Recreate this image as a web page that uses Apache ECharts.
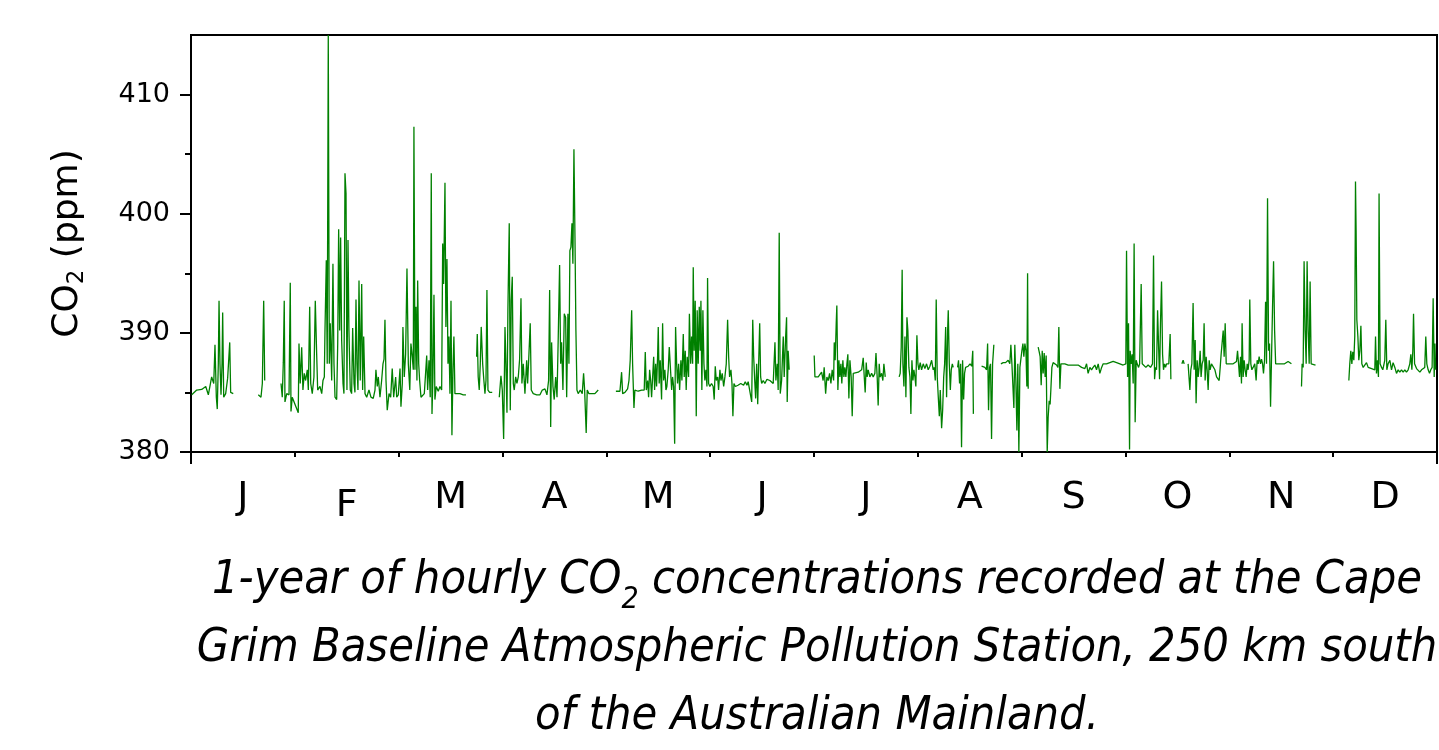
<!DOCTYPE html>
<html>
<head>
<meta charset="utf-8">
<script src="https://cdn.jsdelivr.net/npm/echarts@6/dist/echarts.min.js"></script>
<style>html,body{margin:0;padding:0;background:#fff}#c{width:1439px;height:750px}</style>
</head>
<body>
<div id="c"></div>
<script>
// x = time in months since 1 January (0..12), y = CO2 (ppm)
const months = ['J','F','M','A','M','J','J','A','S','O','N','D'];
const monthTicks = [1,2,3,4,5,6,7,8,9,10,11];
const endTicks = [0,12];
const monthCentres = [0.5,1.5,2.5,3.5,4.5,5.5,6.5,7.5,8.5,9.5,10.5,11.5];
const yTicks = [380,390,400,410];
const yMinorTicks = [385,395,405];

const segJan1 = [[0.007,384.8],[0.055,385.2],[0.103,385.25],[0.142,385.5],[0.167,384.8],[0.199,386.3],[0.219,385.75],[0.231,389],[0.244,384.6],[0.253,383.6],[0.263,387.4],[0.270,392.7],[0.279,387.4],[0.289,384.8],[0.299,387.4],[0.305,391.7],[0.315,384.6],[0.334,384.9],[0.353,386.2],[0.373,389.2],[0.382,385],[0.407,384.9]];
const segJan2 = [[0.648,384.8],[0.674,384.6],[0.687,385.75],[0.700,392.7],[0.710,386]];
const segFebMar = [[0.867,385.75],[0.879,384.6],[0.889,387.5],[0.898,392.7],[0.905,384.2],[0.922,384.9],[0.944,384.8],[0.956,394.2],[0.963,383.4],[0.975,384.6],[1.033,383.3],[1.040,389.1],[1.052,385.75],[1.066,388.8],[1.078,385.2],[1.091,386.6],[1.104,386],[1.120,386.9],[1.130,385.2],[1.143,392.2],[1.153,385.75],[1.168,384.9],[1.184,386.3],[1.197,392.7],[1.210,388.3],[1.220,385.2],[1.242,385.5],[1.259,384.9],[1.271,386],[1.284,386.3],[1.290,390],[1.303,396.1],[1.312,387.4],[1.322,415],[1.332,387.4],[1.341,390.8],[1.355,386],[1.367,395.8],[1.377,387.4],[1.387,384.6],[1.403,384.4],[1.413,389.1],[1.422,398.7],[1.432,390.2],[1.441,398],[1.451,389.4],[1.464,385.75],[1.473,384.9],[1.483,403.4],[1.493,401.7],[1.502,385.2],[1.512,397.8],[1.521,390.2],[1.534,385.2],[1.547,384.9],[1.557,390.4],[1.570,385.75],[1.579,385],[1.589,392.8],[1.598,387.4],[1.608,385.2],[1.618,394.4],[1.630,386],[1.644,394.1],[1.653,385.2],[1.663,389.7],[1.676,384.9],[1.692,384.6],[1.714,385.2],[1.733,384.6],[1.755,384.5],[1.772,385.2],[1.781,386.9],[1.794,385.5],[1.804,386.3],[1.820,384.6],[1.836,386],[1.849,387.4],[1.859,387.8],[1.868,391.1],[1.878,386],[1.890,383.5],[1.907,384.9],[1.923,384.6],[1.938,387],[1.952,384.6],[1.971,386.3],[1.981,384.6],[1.996,384.8],[2.013,387.0],[2.022,383.8],[2.035,385.75],[2.041,390.5],[2.054,386.3],[2.067,388.2],[2.080,395.4],[2.093,387.4],[2.107,385.2],[2.118,389.1],[2.131,388],[2.141,386.9],[2.147,407.3],[2.157,386.9],[2.167,392.2],[2.176,386],[2.183,394.4],[2.193,387.4],[2.202,386],[2.215,384.6],[2.227,384.5],[2.247,384.9],[2.270,388.1],[2.279,385.2],[2.292,387.7],[2.304,384.6],[2.314,403.4],[2.321,383.2],[2.330,386.3],[2.340,393.2],[2.349,384.4],[2.362,385.5],[2.381,385.1],[2.398,385.5],[2.414,385.2],[2.424,397.5],[2.433,394.1],[2.446,402.6],[2.455,390.5],[2.465,396.2],[2.475,387.4],[2.484,389.7],[2.494,384.9],[2.504,392.7],[2.513,381.4],[2.523,386.9],[2.532,389.7],[2.542,384.9],[2.558,384.8],[2.590,384.9],[2.622,384.8],[2.648,384.8]];
const segMar2 = [[2.751,388],[2.757,389.9],[2.766,386.3],[2.776,385.2],[2.786,387.4],[2.795,390.5],[2.809,387.4],[2.818,386.3],[2.831,384.9],[2.841,386],[2.850,393.6],[2.860,385.2],[2.876,385],[2.901,385]];
const segApr = [[2.969,384.6],[2.985,386.4],[2.998,385.2],[3.011,381.1],[3.024,390.5],[3.033,387.4],[3.043,383.3],[3.052,391.9],[3.065,399.2],[3.075,383.5],[3.084,392.7],[3.094,394.7],[3.104,385.75],[3.113,385.2],[3.127,386.3],[3.139,385.75],[3.152,386.3],[3.165,387.8],[3.178,392.9],[3.187,385.75],[3.200,387.4],[3.216,384.9],[3.233,387.7],[3.242,385.75],[3.255,388.3],[3.267,390.8],[3.277,385.2],[3.296,384.9],[3.329,384.8],[3.361,384.8],[3.383,385.2],[3.409,385.3],[3.428,384.8],[3.444,386],[3.454,393.6],[3.464,382.1],[3.473,389.2],[3.486,385.5],[3.498,384.4],[3.512,386.3],[3.525,384.6],[3.537,389.7],[3.550,395.7],[3.560,387.4],[3.569,389.2],[3.582,385.2],[3.595,391.6],[3.608,391.3],[3.618,384.6],[3.630,391.6],[3.640,387.4],[3.649,396.9],[3.659,397.2],[3.669,399.2],[3.678,395.8],[3.688,405.4],[3.698,398],[3.707,390.2],[3.717,385.2],[3.729,384.9],[3.749,385.2],[3.768,384.9],[3.781,386.6],[3.791,385.2],[3.801,382.8],[3.806,381.6],[3.816,385.2],[3.832,384.9],[3.858,384.9],[3.890,384.9],[3.922,385.2]];
const segMayJun = [[4.092,385.1],[4.131,385.1],[4.147,386.7],[4.157,384.9],[4.179,385],[4.205,385.3],[4.218,386],[4.230,387.7],[4.244,391.9],[4.253,387.4],[4.266,383.7],[4.275,385.2],[4.307,385.1],[4.340,385.2],[4.365,385.2],[4.375,388.4],[4.385,385.2],[4.398,386],[4.407,384.6],[4.417,386.9],[4.427,386],[4.436,384.6],[4.446,386.3],[4.456,388],[4.465,385.2],[4.475,387.4],[4.484,385.5],[4.494,388.1],[4.500,390.5],[4.509,385.75],[4.519,387.7],[4.532,384.4],[4.542,390.8],[4.552,386],[4.564,386.9],[4.574,385.2],[4.583,385.5],[4.596,386.9],[4.606,388.8],[4.615,387.4],[4.629,385.2],[4.638,386.3],[4.648,385.5],[4.658,380.7],[4.667,390.5],[4.677,387.4],[4.686,385.75],[4.696,387.4],[4.706,385.2],[4.718,387.7],[4.728,386],[4.741,389.9],[4.750,386.3],[4.760,388.5],[4.769,385.2],[4.779,388],[4.792,386.3],[4.800,391.6],[4.812,387.4],[4.821,389.7],[4.831,387.4],[4.837,395.5],[4.846,388.5],[4.856,392.7],[4.866,383],[4.875,391.9],[4.885,387.4],[4.895,392.2],[4.904,388.5],[4.911,392.7],[4.920,385.2],[4.930,391.9],[4.940,387.4],[4.949,386],[4.959,386.9],[4.969,385.5],[4.975,394.6],[4.985,385.75],[4.997,385.5],[5.013,385.75],[5.029,385.5],[5.039,384.4],[5.049,387.2],[5.059,386],[5.072,386.3],[5.081,385.2],[5.094,386.9],[5.104,386],[5.116,386.6],[5.130,385.5],[5.142,386.3],[5.155,387.4],[5.168,391.1],[5.178,388],[5.187,386.3],[5.200,386.9],[5.210,385.75],[5.219,383],[5.229,385.75],[5.243,385.5],[5.268,385.6],[5.295,385.75],[5.322,385.6],[5.338,385.9],[5.354,385.6],[5.366,385.9],[5.383,386],[5.400,384.2],[5.410,391.1],[5.419,388],[5.429,386],[5.438,384.5],[5.448,387.4],[5.458,384],[5.467,387.4],[5.477,390.8],[5.486,386.3],[5.496,385.75],[5.511,386],[5.527,385.75],[5.547,386.1],[5.559,386.1],[5.575,386],[5.592,386],[5.607,385.75],[5.624,389.2],[5.633,386],[5.646,387.4],[5.655,385.2],[5.665,398.4],[5.675,384.9],[5.688,386],[5.704,389.7],[5.713,386.3],[5.727,389.7],[5.736,391.3],[5.742,384.2],[5.751,388.5],[5.761,386.9]];
const segJul1 = [[6.002,388.1],[6.009,386.3],[6.041,386.3],[6.057,386.2],[6.073,386.7],[6.088,386],[6.098,387.1],[6.112,384.9],[6.124,386.3],[6.137,386],[6.150,386.6],[6.163,385.75],[6.175,386.9],[6.189,386],[6.195,389.2],[6.204,387.7],[6.214,390.8],[6.220,392.3],[6.230,385.2],[6.240,387.7],[6.249,386.3],[6.259,387.4],[6.268,385.75],[6.278,387.7],[6.288,386.3],[6.297,387.1],[6.307,386.3],[6.317,387.4],[6.326,388.2],[6.336,384.5],[6.346,387.7],[6.358,386.3],[6.368,383],[6.378,386.6],[6.394,386.6],[6.426,386.7],[6.459,386.9],[6.474,387.9],[6.484,386.3],[6.493,385],[6.503,387.5],[6.512,386.3],[6.522,386.9],[6.538,386.3],[6.555,386.6],[6.570,386.3],[6.586,386.6],[6.597,388.3],[6.609,386.2],[6.618,383.9],[6.628,387.4],[6.637,386.3],[6.651,386.6],[6.663,386],[6.673,387.4],[6.686,386.3]];
const segAug1 = [[6.820,386.3],[6.830,386.6],[6.840,388.8],[6.849,395.3],[6.856,387.4],[6.866,385.5],[6.876,389.7],[6.885,384.6],[6.895,391.3],[6.904,390.2],[6.914,387.1],[6.924,386.3],[6.933,383.2],[6.943,387.7],[6.953,386],[6.962,386.9],[6.972,386.3],[6.981,385.5],[6.991,389.8],[7.001,387.4],[7.010,386.9],[7.023,387.5],[7.036,386.9],[7.052,387.4],[7.068,387],[7.084,387.4],[7.100,386.9],[7.116,387.2],[7.133,387.7],[7.148,386.9],[7.158,387.1],[7.168,386],[7.177,392.8],[7.187,386.3],[7.197,384.6],[7.207,383],[7.216,385.2],[7.229,382],[7.239,383.5],[7.249,386.3],[7.258,387.4],[7.268,390.5],[7.277,384.6],[7.287,390.2],[7.293,391.9],[7.303,387.4],[7.313,385.2],[7.322,386.9],[7.332,387.4],[7.341,387.1]];
const segAug2 = [[7.383,387.1],[7.392,387.7],[7.402,385.75],[7.412,387.4],[7.421,380.4],[7.431,387.7],[7.441,384.4],[7.450,386.6],[7.460,387.1],[7.470,387.1],[7.485,387.2],[7.503,387.4],[7.519,387.2],[7.529,388.5],[7.535,383.2]];
const segAug3 = [[7.614,387.2],[7.646,387.1],[7.662,386.9],[7.672,389.1],[7.681,383.5],[7.691,387.1],[7.700,387.4],[7.710,381.1],[7.720,387.4],[7.732,389]];
const segSep1 = [[7.800,387.4],[7.822,387.5],[7.845,387.5],[7.870,387.7],[7.886,387.4],[7.896,389],[7.906,387.4],[7.915,387.4],[7.925,383.7],[7.934,389],[7.944,386],[7.954,381.8],[7.963,387.4],[7.973,380],[7.983,387.1],[7.992,387.2],[8.002,388.5],[8.012,389.1],[8.021,388],[8.031,389.1],[8.041,388.5],[8.050,385.5],[8.057,395],[8.063,385.3]];
const segSepOct = [[8.159,388.8],[8.169,388.4],[8.178,388],[8.188,385.6],[8.198,388.5],[8.207,386.6],[8.217,388.3],[8.226,386.3],[8.236,388.1],[8.246,380],[8.255,382.9],[8.265,384.3],[8.274,384],[8.281,385.2],[8.291,387.1],[8.303,387.5],[8.320,387.4],[8.336,387.3],[8.349,387.1],[8.358,390.5],[8.368,385.3],[8.378,387.4],[8.394,387.5],[8.416,387.4],[8.448,387.3],[8.480,387.3],[8.512,387.3],[8.544,387.3],[8.577,387.1],[8.609,387],[8.625,387.4],[8.640,386.6],[8.657,387.1],[8.673,386.9],[8.688,387.1],[8.705,387.3],[8.721,386.9],[8.737,387.4],[8.753,386.6],[8.770,387.1],[8.785,387.4],[8.801,387.5],[8.817,387.4],[8.849,387.5],[8.881,387.6],[8.914,387.5],[8.946,387.4],[8.977,387.3],[9.003,387.4],[9.010,396.9],[9.020,386.3],[9.029,390.8],[9.039,380.2],[9.045,388.5],[9.054,387.4],[9.064,388.2],[9.074,385.75],[9.083,397.5],[9.093,382.5],[9.103,387.7],[9.112,387.4],[9.126,387.1],[9.136,387.4],[9.151,394.1],[9.161,387.4],[9.177,387.4],[9.196,387.1],[9.218,387.3],[9.241,387.1],[9.260,387.4],[9.270,396.5],[9.280,386.1],[9.289,387.1],[9.299,386.9],[9.309,391.9],[9.318,389.1],[9.328,386.1],[9.337,390.8],[9.347,394.3],[9.357,388.2],[9.366,386.9],[9.376,387.4],[9.386,387.1],[9.395,387.4],[9.405,387.4],[9.417,387.4],[9.430,389.9],[9.437,386.1]];
const segOct2 = [[9.543,387.4],[9.555,387.7],[9.565,387.4]];
const segOctNov = [[9.603,387.4],[9.620,385.2],[9.629,386.9],[9.639,387.4],[9.651,392.5],[9.661,386.9],[9.671,389.4],[9.680,384.1],[9.690,387.7],[9.700,386.3],[9.709,387.1],[9.719,388.5],[9.728,386.3],[9.738,387.4],[9.748,387.7],[9.757,390.8],[9.767,386],[9.777,388],[9.786,386.9],[9.796,385.2],[9.806,387.7],[9.815,386.9],[9.828,387.4],[9.844,387.4],[9.861,386.9],[9.877,386.3],[9.890,386.3],[9.902,386],[9.912,387.1],[9.921,388.2],[9.931,389.2],[9.941,390.2],[9.950,388],[9.960,390.8],[9.970,387.4],[9.979,387.4],[10.005,387.4],[10.037,387.4],[10.053,387.4],[10.069,387.6],[10.079,388.5],[10.089,387.4],[10.098,386.3],[10.108,388],[10.117,385.75],[10.123,390.8],[10.133,386.3],[10.143,387.7],[10.152,386.9],[10.162,386.3],[10.172,387.4],[10.181,386.9],[10.191,387.7],[10.197,392.8],[10.207,387.4],[10.217,386.9],[10.229,387.1],[10.245,387.4],[10.258,386],[10.268,387.7],[10.278,387.4],[10.287,388],[10.300,387.4],[10.310,387.8],[10.320,387.4],[10.329,386.6],[10.339,387.7],[10.349,392.6],[10.358,387.4],[10.368,401.3],[10.378,388.5],[10.387,389.1],[10.397,383.8],[10.407,388.2],[10.416,392.1],[10.426,396],[10.436,390.2],[10.446,387.4],[10.455,387.3],[10.471,387.4],[10.503,387.4],[10.532,387.4],[10.566,387.6],[10.598,387.4]];
const segNov2 = [[10.695,385.5],[10.701,387.4],[10.711,387.1],[10.720,396],[10.730,390.2],[10.740,387.4],[10.749,396],[10.759,390.2],[10.769,387.4],[10.778,394.3],[10.788,387.4],[10.807,387.3],[10.830,387.3]];
const segDec = [[11.151,386],[11.160,387.4],[11.170,388.5],[11.180,387.4],[11.189,388.4],[11.199,387.7],[11.208,389.7],[11.215,402.7],[11.221,398.6],[11.228,391.1],[11.238,389.7],[11.247,387.7],[11.257,388.5],[11.267,390.6],[11.276,387.4],[11.289,387.1],[11.305,387],[11.321,387.5],[11.337,387.1],[11.353,387.1],[11.370,387],[11.385,387.1],[11.401,386.9],[11.408,389.7],[11.417,386.6],[11.427,387.7],[11.436,386.3],[11.442,401.7],[11.452,387.4],[11.466,387.1],[11.478,386.9],[11.497,387.7],[11.507,391.1],[11.517,386.9],[11.529,387.4],[11.546,387.7],[11.562,386.9],[11.577,387.5],[11.594,387.1],[11.610,386.6],[11.626,386.9],[11.642,386.7],[11.658,386.9],[11.674,386.7],[11.690,386.9],[11.706,386.7],[11.722,386.9],[11.738,387.4],[11.748,388.2],[11.758,386.9],[11.767,388.5],[11.774,391.6],[11.784,387.4],[11.803,387],[11.819,386.9],[11.835,386.7],[11.851,386.9],[11.867,386.9],[11.882,387.1],[11.892,389.7],[11.902,387.4],[11.915,386.9],[11.928,386.6],[11.940,386.9],[11.953,387.1],[11.963,392.9],[11.973,386.3],[11.980,389.1],[11.987,386.9]];

const segments = [segJan1, segJan2, segFebMar, segMar2, segApr, segMayJun, segJul1, segAug1, segAug2, segAug3, segSep1, segSepOct, segOct2, segOctNov, segNov2, segDec];

// join the recorded segments, leaving gaps (missing data) between them
const series = [];
segments.forEach((s, i) => {
  if (i > 0) {
    const prev = segments[i - 1];
    series.push([(prev[prev.length - 1][0] + s[0][0]) / 2, null]);
  }
  s.forEach(p => series.push(p));
});

const FONT = 'DejaVu Sans';
const CAP = 'DejaVu Sans Condensed, DejaVu Sans';

const chart = echarts.init(document.getElementById('c'), null, {renderer: 'canvas'});
chart.setOption({
  animation: false,
  backgroundColor: '#fff',
  title: {
    left: 812,
    top: 542,
    textAlign: 'center',
    text: '{a|1-year of hourly CO}{s|2}{a| concentrations recorded at the Cape}\n' +
          '{a|Grim Baseline Atmospheric Pollution Station, 250 km south}\n' +
          '{a|of the Australian Mainland.}',
    textStyle: {
      fontWeight: 'normal',
      rich: {
        a: {fontFamily: CAP, fontStyle: 'italic', fontWeight: 'normal', fontSize: 46.5, lineHeight: 68, color: '#000'},
        s: {fontFamily: CAP, fontStyle: 'italic', fontWeight: 'normal', fontSize: 30, lineHeight: 40, verticalAlign: 'bottom', color: '#000'}
      }
    }
  },
  grid: {left: 191, top: 35, width: 1246, height: 417, show: true, borderColor: '#000', borderWidth: 2, backgroundColor: 'transparent', outerBoundsMode: 'none'},
  xAxis: [
    {
      type: 'value', min: 0, max: 12, interval: 1, position: 'bottom',
      axisLine: {show: true, onZero: false, lineStyle: {color: '#000', width: 2}},
      axisTick: {show: true, customValues: monthTicks, length: 5, lineStyle: {color: '#000', width: 2}},
      axisLabel: {
        show: true, customValues: monthCentres, margin: 27,
        fontFamily: FONT, fontSize: 38, color: '#000',
        formatter: v => {
          const i = Math.round(v - 0.5);
          return i === 1 ? '{low|' + months[i] + '}' : months[i];
        },
        rich: {low: {fontFamily: FONT, fontSize: 38, color: '#000', padding: [8, 0, 0, 0]}}
      },
      splitLine: {show: false}
    },
    {
      type: 'value', min: 0, max: 12, interval: 1, position: 'bottom',
      axisLine: {show: false, onZero: false},
      axisTick: {show: true, customValues: endTicks, length: 12, lineStyle: {color: '#000', width: 2}},
      axisLabel: {show: false},
      splitLine: {show: false}
    }
  ],
  yAxis: [
    {
      type: 'value', min: 380, max: 415, interval: 10, position: 'left',
      axisLine: {show: true, onZero: false, lineStyle: {color: '#000', width: 2}},
      axisTick: {show: true, customValues: yTicks, length: 11, lineStyle: {color: '#000', width: 2}},
      axisLabel: {show: true, customValues: yTicks, margin: 21, fontFamily: FONT, fontSize: 27, color: '#000'},
      splitLine: {show: false},
      name: '{a|CO}{s|2}{a| (ppm)}',
      nameLocation: 'middle',
      nameRotate: 90,
      nameGap: 102,
      nameTextStyle: {
        rich: {
          a: {fontFamily: FONT, fontSize: 36, lineHeight: 42, color: '#000'},
          s: {fontFamily: FONT, fontSize: 23, lineHeight: 24, verticalAlign: 'bottom', color: '#000'}
        }
      }
    },
    {
      type: 'value', min: 380, max: 415, interval: 10, position: 'left',
      axisLine: {show: false, onZero: false},
      axisTick: {show: true, customValues: yMinorTicks, length: 6, lineStyle: {color: '#000', width: 2}},
      axisLabel: {show: false},
      splitLine: {show: false}
    }
  ],
  series: [{
    type: 'line',
    xAxisIndex: 0,
    yAxisIndex: 0,
    data: series,
    showSymbol: false,
    connectNulls: false,
    clip: true,
    lineStyle: {color: '#008000', width: 1.3},
    itemStyle: {color: '#008000'}
  }]
});
</script>
</body>
</html>
